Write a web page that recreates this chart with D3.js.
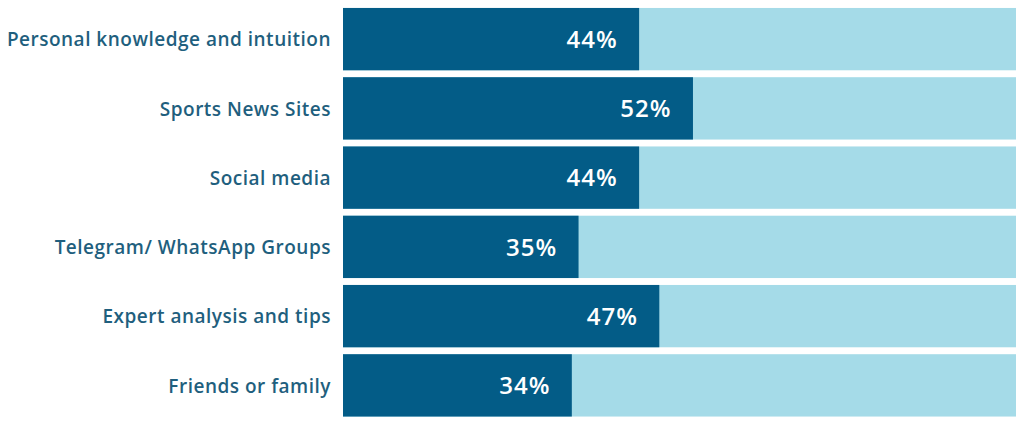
<!DOCTYPE html>
<html><head><meta charset="utf-8">
<script src="https://cdn.jsdelivr.net/npm/d3@7"></script>
<style>body{margin:0;background:#fff}svg{display:block}</style>
</head><body><svg id="c" width="1024" height="423"></svg>
<script>
const categories = ["Personal knowledge and intuition","Sports News Sites","Social media","Telegram/ WhatsApp Groups","Expert analysis and tips","Friends or family"];
const values = [44,52,44,35,47,34];
const totals = [100,100,100,100,100,100];

const svg = d3.select("#c");
const x = d3.scaleLinear().domain([0,100]).range([343,1016]);
const y = d3.scaleBand().domain(categories).range([4.5,420]).paddingInner(0.1).paddingOuter(0.05);

svg.selectAll("rect.bg").data(categories).join("rect").attr("class","bg")
  .attr("x",x(0)).attr("y",d=>y(d)).attr("width",(d,i)=>x(totals[i])-x(0)).attr("height",y.bandwidth())
  .attr("fill","#a5dbe8");
svg.selectAll("rect.fg").data(categories).join("rect").attr("class","fg")
  .attr("x",x(0)).attr("y",d=>y(d)).attr("width",(d,i)=>x(values[i])-x(0)).attr("height",y.bandwidth())
  .attr("fill","#035c87");
svg.selectAll("text.v").data(categories).join("text").attr("class","v")
  .attr("x",(d,i)=>x(values[i])-47).attr("y",d=>y(d)+y.bandwidth()/2).attr("dy","0.36em")
  .attr("text-anchor","middle").attr("fill","#fff").attr("font-family","Open Sans").attr("font-weight",600).attr("font-size",24).attr("letter-spacing",1)
  .text((d,i)=>values[i]+"%");
const ax = svg.append("g").attr("transform","translate(331,0)")
  .call(d3.axisLeft(y).tickSize(0).tickPadding(0));
ax.select(".domain").remove();
ax.selectAll("text").attr("fill","#1f5f7e").attr("font-family","Open Sans").attr("font-weight",600).attr("font-size",19).attr("letter-spacing",0.5).attr("dy","0.38em");
</script></body></html>
